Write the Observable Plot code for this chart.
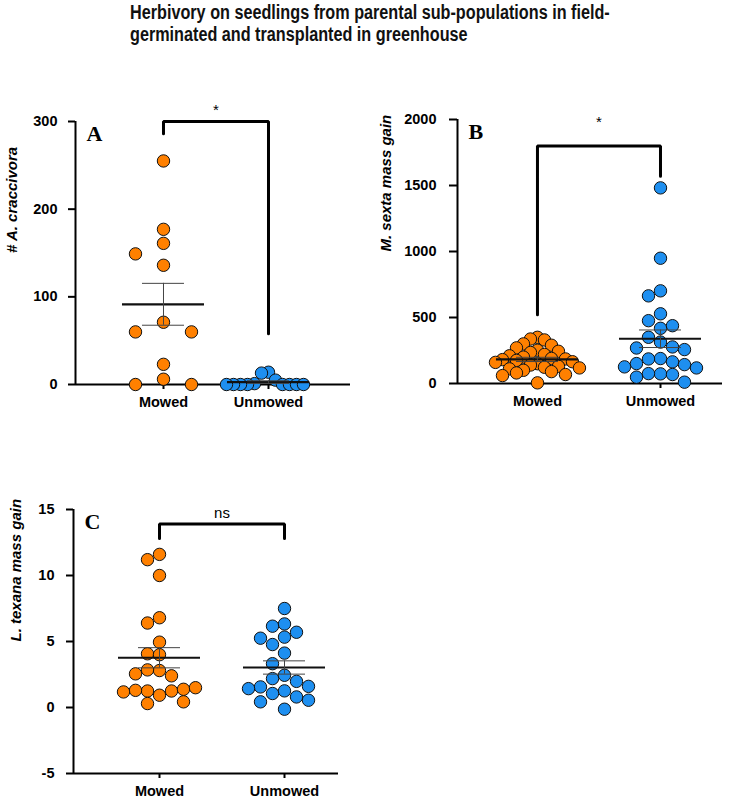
<!DOCTYPE html>
<html><head><meta charset="utf-8">
<script src="https://cdn.jsdelivr.net/npm/d3@7"></script>
<script src="https://cdn.jsdelivr.net/npm/@observablehq/plot@0.6"></script>
<style>
body{margin:0;background:#fff;}
#root{position:relative;width:749px;height:802px;overflow:hidden;background:#fff;font-family:"Liberation Sans",Arial,sans-serif;}
#title{position:absolute;left:130px;top:1px;font-weight:bold;font-size:20px;line-height:22px;white-space:nowrap;transform:scaleX(0.81);transform-origin:0 0;color:#111;}
.panel{position:absolute;}
</style></head><body>
<div id="root"><div id="title">Herbivory on seedlings from parental sub-populations in field-<br>germinated and transplanted in greenhouse</div></div>
<script>
// ---- data ----
const groups = ["Mowed", "Unmowed"];
const aMowed = [255, 177, 161, 149, 136, 71, 60, 60, 23, 6, 0, 0];
const aUnmowed = [14, 13, 5, 1, 0, 0, 0, 0, 0, 0, 0, 0];
const bMowed = [350, 337, 330, 300, 290, 270, 252, 244, 235, 220, 210, 200, 190, 186, 181, 175, 165, 160, 150, 140, 130, 123, 118, 111, 100, 90, 80, 68, 60, 5];
const bUnmowed = [1482, 949, 702, 664, 528, 476, 438, 418, 350, 314, 277, 269, 257, 189, 186, 164, 151, 143, 126, 118, 73, 75, 68, 48, 10];
const cMowed = [11.6, 11.2, 10.0, 6.8, 6.4, 4.95, 4.07, 4.0, 2.8, 2.85, 2.4, 2.55, 0.93, 1.25, 1.25, 1.3, 1.38, 1.18, 1.5, 0.3, 0.43];
const cUnmowed = [7.5, 6.33, 6.16, 5.7, 5.33, 5.25, 4.77, 4.12, 3.32, 2.44, 2.19, 1.98, 1.56, 1.6, 1.26, 1.06, 1.43, 0.8, 0.43, 0.55, -0.13];
const yTicksA = [0, 100, 200, 300];
const yTicksB = [0, 500, 1000, 1500, 2000];
const yTicksC = [-5, 0, 5, 10, 15];
const panelLetters = ["A", "B", "C"];
const yTitles = ["# A. craccivora", "M. sexta mass gain", "L. texana mass gain"];
const signif = ["*", "*", "ns"];
const signifY = [318, 2008, 14.7];
const bracketTop = [300, 1800, 13.9];
const bracketLeftEnd = [286, 520, 12.8];
const bracketRightEnd = [58, 1570, 12.8];
const groupColors = ["#FF8000", "#1E8FF0"];

// ---- layout ----
const layouts = [
  {left: 0, top: 100, width: 360, height: 320, mt: 21, mb: 36, ml: 75, mr: 10, xd: [-0.838, 1.781], yd: [0, 300], tickSize: 7, tickPad: 11, titleDx: -63, halfW: 28},
  {left: 370, top: 100, width: 370, height: 320, mt: 19, mb: 37, ml: 87, mr: 18, xd: [-0.650, 1.504], yd: [0, 2000], tickSize: 8, tickPad: 13, titleDx: -71, halfW: 36},
  {left: 0, top: 490, width: 360, height: 312, mt: 19, mb: 29, ml: 73, mr: 22, xd: [-0.688, 1.432], yd: [-5, 15], tickSize: 7, tickPad: 12, titleDx: -57, halfW: 36}
];
const R = 6.2, sMax = 28, sMin = 7, meanHalf = 41, semHalf = 21;
const values = [[aMowed, aUnmowed], [bMowed, bUnmowed], [cMowed, cUnmowed]];
const yTicks = [yTicksA, yTicksB, yTicksC];

// column-based scatter layout (points collide only in the same column)
function scatterOffsets(ys, D, halfW) {
  const order = [0];
  for (let k = 1; k < 60; k++) order.push(-k, k);
  const placed = [], cols = [];
  ys.forEach((y, i) => {
    for (const c of order) {
      if (!placed.some(p => p.c === c && Math.abs(p.y - y) < D)) { placed.push({c, y}); cols[i] = c; break; }
    }
  });
  const m = d3.max(cols, Math.abs);
  const s = m > 0 ? Math.max(sMin, Math.min(sMax, halfW / m)) : 0;
  return cols.map(c => c * s);
}

const root = document.getElementById("root");
for (let p = 0; p < 3; p++) {
  const L = layouts[p];
  const yPx = d3.scaleLinear(L.yd, [L.height - L.mb, L.mt]);
  const ppu = (L.width - L.ml - L.mr) / (L.xd[1] - L.xd[0]);
  const pts = [];
  values[p].forEach((arr, g) => {
    const off = scatterOffsets(arr.map(yPx), 2 * R, L.halfW);
    arr.forEach((v, i) => pts.push({g, v, x: g + off[i] / ppu}));
  });
  const stats = values[p].map((arr, g) => {
    const m = d3.mean(arr), s = d3.deviation(arr) / Math.sqrt(arr.length);
    return {g, mean: m, lo: m - s, hi: m + s};
  });
  const bracket = [[0, bracketLeftEnd[p]], [0, bracketTop[p]], [1, bracketTop[p]], [1, bracketRightEnd[p]]];
  const plot = Plot.plot({
    width: L.width, height: L.height,
    marginTop: L.mt, marginBottom: L.mb, marginLeft: L.ml, marginRight: L.mr,
    x: {domain: L.xd, label: null},
    y: {domain: L.yd, label: null},
    color: {type: "ordinal", domain: [0, 1], range: groupColors},
    style: {fontFamily: "'Liberation Sans', Arial, sans-serif", background: "transparent", overflow: "visible", color: "#000"},
    marks: [
      Plot.axisY(yTicks[p], {tickSize: L.tickSize, tickPadding: L.tickPad, tickFormat: d => String(d), fontSize: 14.5, fontWeight: "bold", strokeWidth: 2, label: null}),
      Plot.axisX([0, 1], {tickFormat: i => groups[i], tickSize: 5, tickPadding: 7, fontSize: 14.5, fontWeight: "bold", strokeWidth: 2, label: null}),
      Plot.ruleX([L.xd[0]], {strokeWidth: 2}),
      Plot.ruleY([L.yd[0]], {strokeWidth: 2}),
      Plot.line(bracket, {x: d => d[0], y: d => d[1], strokeWidth: 3, strokeLinejoin: "miter", curve: "linear"}),
      Plot.text([signif[p]], {x: 0.5, y: signifY[p], text: d => d, fontSize: 15, dy: signif[p] === "*" ? 4 : 0}),
      Plot.dot(pts, {x: "x", y: "v", r: R, fill: "g", stroke: "#111", strokeWidth: 1}),
      Plot.ruleY(stats, {y: "mean", x1: d => d.g - meanHalf / ppu, x2: d => d.g + meanHalf / ppu, strokeWidth: 2.2, stroke: "#111"}),
      Plot.ruleY(stats, {y: "hi", x1: d => d.g - semHalf / ppu, x2: d => d.g + semHalf / ppu, strokeWidth: 1, stroke: "#444"}),
      Plot.ruleY(stats, {y: "lo", x1: d => d.g - semHalf / ppu, x2: d => d.g + semHalf / ppu, strokeWidth: 1, stroke: "#444"}),
      Plot.ruleX(stats, {x: "g", y1: "lo", y2: "hi", strokeWidth: 1, stroke: "#444"}),
      Plot.text([panelLetters[p]], {text: d => d, frameAnchor: "top-left", lineAnchor: "top", textAnchor: "start", dx: 11, dy: 4, fontFamily: "'Liberation Serif', 'Times New Roman', serif", fontWeight: "bold", fontSize: 22}),
      Plot.text([yTitles[p]], {text: d => d, frameAnchor: "left", rotate: -90, dx: L.titleDx, fontStyle: "italic", fontWeight: "bold", fontSize: 15})
    ]
  });
  const wrap = document.createElement("div");
  wrap.className = "panel";
  wrap.style.left = L.left + "px";
  wrap.style.top = L.top + "px";
  wrap.appendChild(plot);
  root.appendChild(wrap);
}
</script>
</body></html>
